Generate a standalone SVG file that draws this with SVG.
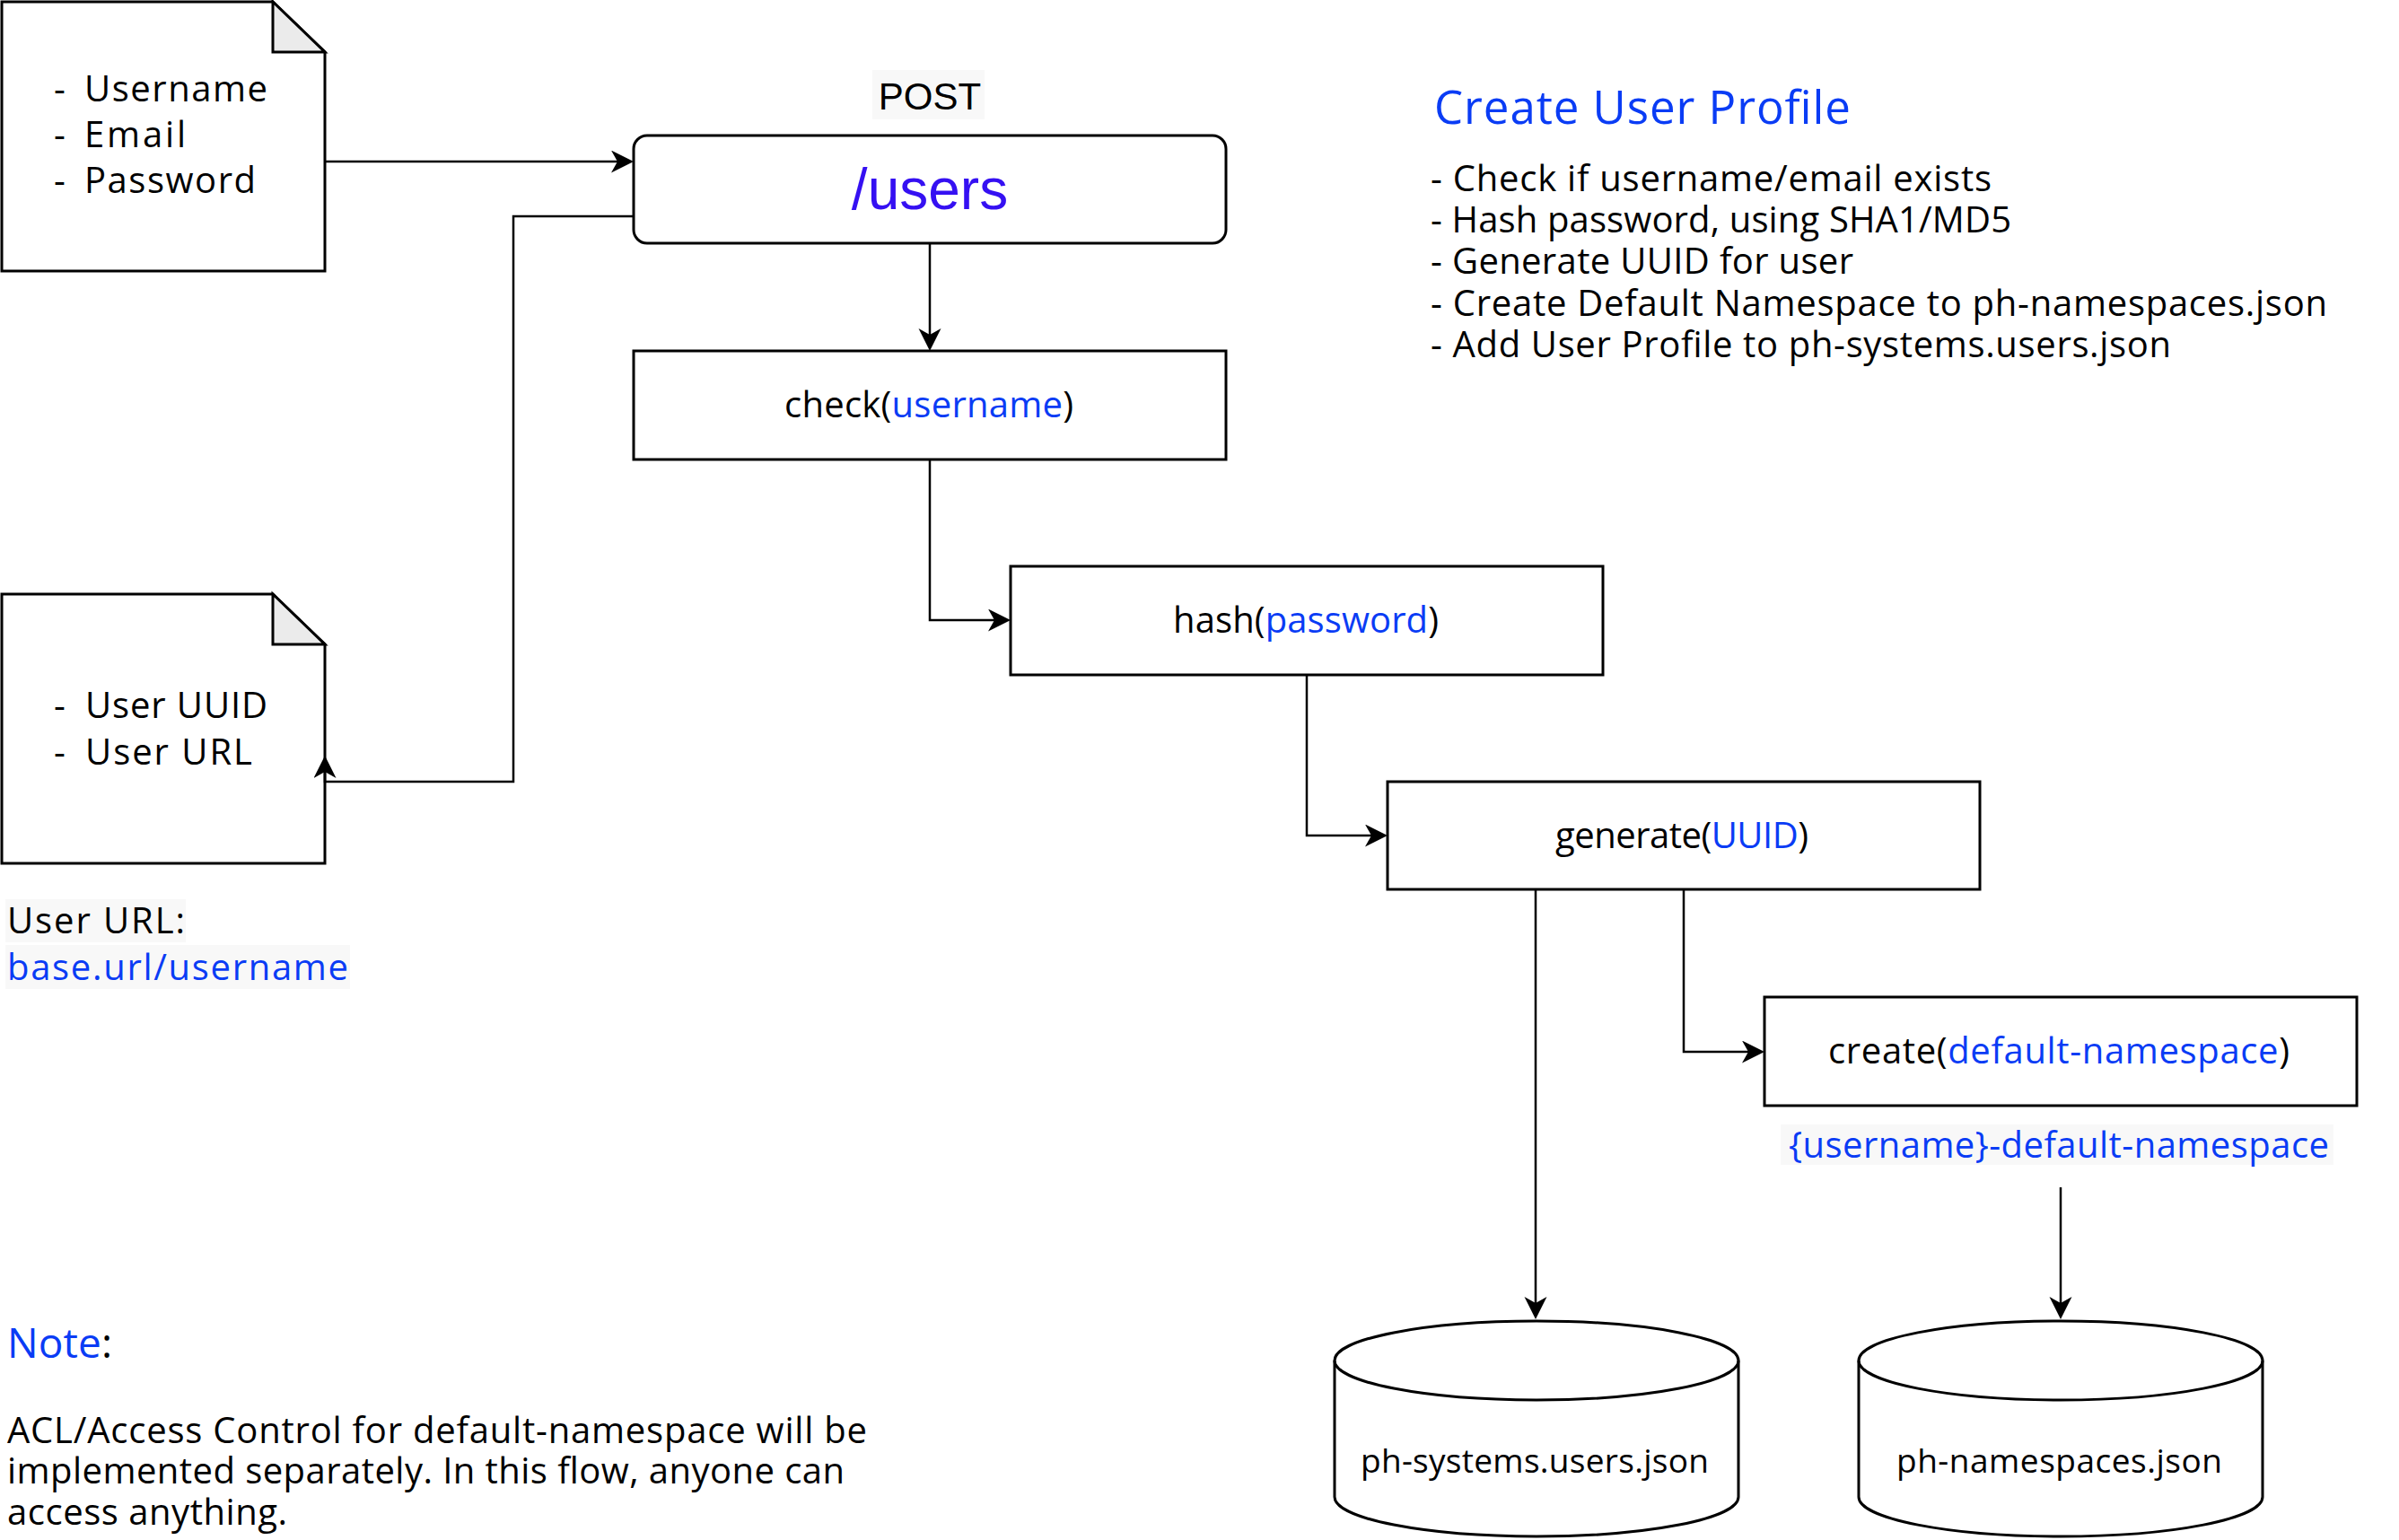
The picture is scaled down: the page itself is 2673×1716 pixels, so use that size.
<svg xmlns="http://www.w3.org/2000/svg" width="2673" height="1716" viewBox="0 0 2673 1716">
<defs>
<style>
.t{font-family:"Open Sans","Noto Sans",sans-serif;fill:#000}
.a{font-family:"Liberation Sans",Arial,sans-serif;fill:#000}
.b{fill:#0a3cf5}
.v{fill:#3510f2}
.box{fill:#fff;stroke:#000;stroke-width:3}
.fold{fill:#ebebeb;stroke:#000;stroke-width:3;stroke-linejoin:miter}
.con{fill:none;stroke:#000;stroke-width:2.5}
.bg{fill:#f8f8f8}
</style>
<marker id="arr" markerUnits="userSpaceOnUse" viewBox="0 0 26 26" markerWidth="26" markerHeight="26" refX="7" refY="12.5" orient="auto">
<path d="M0,0 L25,12.5 L0,25 L7,12.5 Z" fill="#000"/>
</marker>
</defs>
<rect width="2673" height="1716" fill="#fff"/>

<g id="input-doc">
<path class="box" d="M2,2 H304 L362,58 V302 H2 Z"/>
<path class="fold" d="M304,2 V58 H362 Z"/>
<text class="t" x="60" y="113" font-size="40">-</text>
<text class="t" x="94" y="113" font-size="40" textLength="204">Username</text>
<text class="t" x="60" y="164" font-size="40">-</text>
<text class="t" x="94" y="164" font-size="40" textLength="113">Email</text>
<text class="t" x="60" y="215" font-size="40">-</text>
<text class="t" x="94" y="215" font-size="40" textLength="191">Password</text>
</g>

<g id="post-label">
<rect class="bg" x="972" y="78" width="125" height="55"/>
<text class="a" x="1036" y="122" font-size="42" text-anchor="middle">POST</text>
</g>

<g id="users-endpoint">
<rect class="box" x="706" y="151" width="660" height="120" rx="15" ry="15"/>
<text class="a v" x="1036" y="233" font-size="64" text-anchor="middle">/users</text>
</g>

<g id="check">
<rect class="box" x="706" y="391" width="660" height="121"/>
<text class="t" x="874" y="465" font-size="40" textLength="322">check(<tspan class="b">username</tspan>)</text>
</g>

<g id="hash">
<rect class="box" x="1126" y="631" width="660" height="121"/>
<text class="t" x="1307" y="705" font-size="40" textLength="296">hash(<tspan class="b">password</tspan>)</text>
</g>

<g id="generate">
<rect class="box" x="1546" y="871" width="660" height="120"/>
<text class="t" x="1733" y="945" font-size="40" textLength="282">generate(<tspan class="b">UUID</tspan>)</text>
</g>

<g id="create">
<rect class="box" x="1966" y="1111" width="660" height="121"/>
<text class="t" x="2037" y="1185" font-size="40" textLength="514">create(<tspan class="b">default-namespace</tspan>)</text>
</g>

<g id="namespace-label">
<rect class="bg" x="1984" y="1253" width="616" height="45"/>
<text class="t b" x="1993" y="1290" font-size="40" textLength="602">{username}-default-namespace</text>
</g>

<g id="output-doc">
<path class="box" d="M2,662 H304 L362,718 V962 H2 Z"/>
<path class="fold" d="M304,662 V718 H362 Z"/>
<text class="t" x="60" y="800" font-size="40">-</text>
<text class="t" x="95" y="800" font-size="40" textLength="203">User UUID</text>
<text class="t" x="60" y="852" font-size="40">-</text>
<text class="t" x="95" y="852" font-size="40" textLength="186">User URL</text>
</g>

<g id="user-url-note">
<rect class="bg" x="6" y="1002" width="201" height="48"/>
<rect class="bg" x="6" y="1053" width="384" height="49"/>
<text class="t" x="8" y="1040" font-size="40" textLength="198">User URL:</text>
<text class="t b" x="8" y="1092" font-size="40" textLength="380">base.url/username</text>
</g>

<g id="description">
<text class="t b" x="1598" y="138" font-size="51" textLength="464">Create User Profile</text>
<text class="t" x="1594" y="213" font-size="40" textLength="625">- Check if username/email exists</text>
<text class="t" x="1594" y="259" font-size="40" textLength="647">- Hash password, using SHA1/MD5</text>
<text class="t" x="1594" y="305" font-size="40" textLength="471">- Generate UUID for user</text>
<text class="t" x="1594" y="352" font-size="40" textLength="999">- Create Default Namespace to ph-namespaces.json</text>
<text class="t" x="1594" y="398" font-size="40" textLength="825">- Add User Profile to ph-systems.users.json</text>
</g>

<g id="db-users">
<path class="box" d="M1487,1516 A225,44 0 0,1 1937,1516 V1668 A225,44 0 0,1 1487,1668 Z"/>
<path class="con" style="stroke-width:3" d="M1487,1516 A225,44 0 0,0 1937,1516"/>
<text class="t" x="1516" y="1641" font-size="37" textLength="388">ph-systems.users.json</text>
</g>

<g id="db-namespaces">
<path class="box" d="M2071,1516 A225,44 0 0,1 2521,1516 V1668 A225,44 0 0,1 2071,1668 Z"/>
<path class="con" style="stroke-width:3" d="M2071,1516 A225,44 0 0,0 2521,1516"/>
<text class="t" x="2113" y="1641" font-size="37" textLength="363">ph-namespaces.json</text>
</g>

<g id="note">
<text class="t" x="8" y="1513" font-size="46" textLength="117"><tspan class="b">Note</tspan>:</text>
<text class="t" x="8" y="1608" font-size="40" textLength="958">ACL/Access Control for default-namespace will be</text>
<text class="t" x="8" y="1653" font-size="40" textLength="933">implemented separately. In this flow, anyone can</text>
<text class="t" x="8" y="1699" font-size="40" textLength="312">access anything.</text>
</g>

<g id="connectors">
<path class="con" d="M362,180 H688" marker-end="url(#arr)"/>
<path class="con" d="M706,241 H572 V871 H362 V860" marker-end="url(#arr)"/>
<path class="con" d="M1036,271 V373" marker-end="url(#arr)"/>
<path class="con" d="M1036,512 V691 H1108" marker-end="url(#arr)"/>
<path class="con" d="M1456,752 V931 H1528" marker-end="url(#arr)"/>
<path class="con" d="M1876,991 V1172 H1948" marker-end="url(#arr)"/>
<path class="con" d="M1711,991 V1452" marker-end="url(#arr)"/>
<path class="con" d="M2296,1323 V1452" marker-end="url(#arr)"/>
</g>
</svg>
